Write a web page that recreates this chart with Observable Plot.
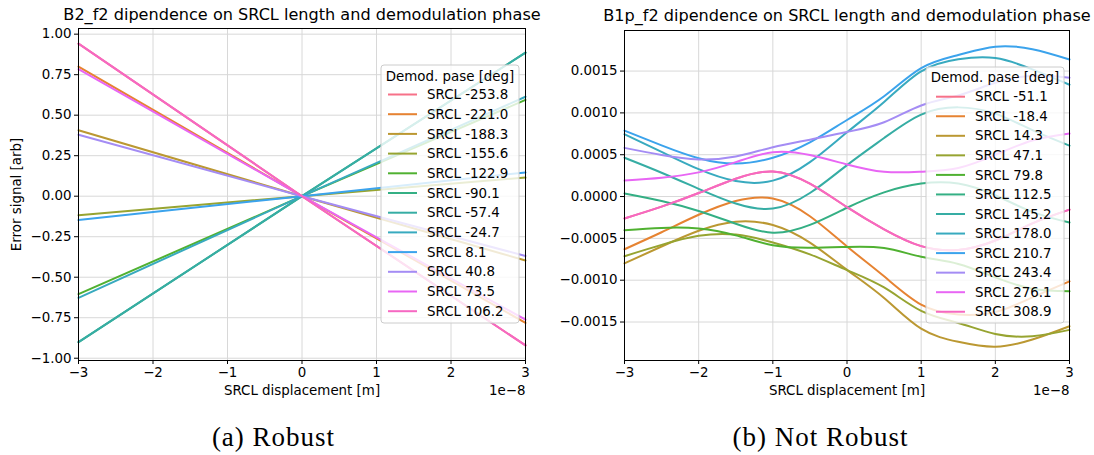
<!DOCTYPE html>
<html><head><meta charset="utf-8">
<script src="https://cdn.jsdelivr.net/npm/d3@7"></script>
<script src="https://cdn.jsdelivr.net/npm/@observablehq/plot@0.6"></script>
<style>
html,body{margin:0;padding:0;background:#fff;}
#wrap{position:relative;width:1094px;height:455px;overflow:hidden;font-family:"DejaVu Sans",sans-serif;}
.panel{position:absolute;top:0;}
.cap{position:absolute;top:422px;width:547px;line-height:30px;text-align:center;font-family:"Liberation Serif",serif;font-size:27px;letter-spacing:1px;color:#000;}
</style></head><body><div id="wrap"></div>
<script>
// ---------- data ----------
// x positions are in units of 1e-8 m
const xTickValues = [-3, -2, -1, 0, 1, 2, 3];

// (a) Robust : B2_f2
const robustPhases = [-253.8, -221.0, -188.3, -155.6, -122.9, -90.1, -57.4, -24.7, 8.1, 40.8, 73.5, 106.2];
const robustX = [-3, 0, 3];
const robustAtMinus3 = [0.942, 0.800, 0.407, -0.117, -0.604, -0.901, -0.901, -0.627, -0.147, 0.379, 0.784, 0.942];
const robustAtZero = [0, 0, 0, 0, 0, 0, 0, 0, 0, 0, 0, 0];
const robustAtPlus3 = [-0.921, -0.782, -0.397, 0.115, 0.594, 0.886, 0.886, 0.614, 0.147, -0.369, -0.762, -0.921];
const robustYTicks = [-1, -0.75, -0.5, -0.25, 0, 0.25, 0.5, 0.75, 1];

// (b) Not robust : B1p_f2 (values in units of 1e-3)
const notRobustPhases = [-51.1, -18.4, 14.3, 47.1, 79.8, 112.5, 145.2, 178.0, 210.7, 243.4, 276.1, 308.9];
const notRobustX = [-3, -2.5, -2, -1.5, -1, -0.5, 0, 0.5, 1, 1.5, 2, 2.5, 3];
const nr_m51_1 = [-0.262, -0.121, 0.042, 0.213, 0.300, 0.154, -0.127, -0.392, -0.593, -0.638, -0.526, -0.320, -0.156];
const nr_m18_4 = [-0.630, -0.427, -0.218, -0.053, -0.024, -0.236, -0.597, -0.954, -1.291, -1.411, -1.380, -1.206, -1.014];
const nr_14_3 = [-0.799, -0.597, -0.409, -0.301, -0.341, -0.551, -0.877, -1.213, -1.580, -1.737, -1.796, -1.709, -1.550];
const nr_47_1 = [-0.713, -0.578, -0.470, -0.455, -0.549, -0.692, -0.879, -1.087, -1.367, -1.511, -1.642, -1.670, -1.594];
const nr_79_8 = [-0.402, -0.375, -0.382, -0.464, -0.583, -0.613, -0.602, -0.616, -0.720, -0.806, -0.967, -1.101, -1.132];
const nr_112_5 = [0.037, -0.053, -0.172, -0.325, -0.432, -0.339, -0.134, 0.050, 0.155, 0.155, 0.015, -0.183, -0.311];
const nr_145_2 = [0.464, 0.285, 0.092, -0.084, -0.144, 0.042, 0.376, 0.700, 0.980, 1.066, 0.991, 0.793, 0.608];
const nr_178_0 = [0.745, 0.534, 0.327, 0.185, 0.190, 0.411, 0.768, 1.130, 1.497, 1.641, 1.655, 1.520, 1.337];
const nr_210_7 = [0.788, 0.612, 0.458, 0.394, 0.464, 0.648, 0.915, 1.199, 1.536, 1.693, 1.792, 1.762, 1.639];
const nr_243_4 = [0.582, 0.497, 0.444, 0.479, 0.590, 0.680, 0.772, 0.888, 1.089, 1.208, 1.360, 1.445, 1.421];
const nr_276_1 = [0.191, 0.224, 0.289, 0.411, 0.530, 0.496, 0.384, 0.296, 0.296, 0.341, 0.498, 0.670, 0.753];
const nr_308_9 = [-0.262, -0.121, 0.042, 0.213, 0.300, 0.154, -0.127, -0.392, -0.593, -0.638, -0.526, -0.320, -0.156];
const notRobustSeries = [nr_m51_1, nr_m18_4, nr_14_3, nr_47_1, nr_79_8, nr_112_5, nr_145_2, nr_178_0, nr_210_7, nr_243_4, nr_276_1, nr_308_9];
const notRobustYTicks = [-1.5, -1, -0.5, 0, 0.5, 1, 1.5];

// ---------- seaborn "husl" palette ----------
function huslPalette(n, h = 0.01, s = 0.9, l = 0.65) {
  const m = [[3.2406, -1.5372, -0.4986], [-0.9689, 1.8758, 0.0415], [0.0557, -0.2040, 1.0570]];
  const refU = 0.19784, refV = 0.46834, kappa = 903.3;
  function maxChroma(L, H) {
    const hr = H * Math.PI / 180, sinH = Math.sin(hr), cosH = Math.cos(hr);
    const sub1 = Math.pow(L + 16, 3) / 1560896;
    const sub2 = sub1 > 0.008856 ? sub1 : L / kappa;
    let result = Infinity;
    for (const [m1, m2, m3] of m) {
      const top = (0.99915 * m1 + 1.05122 * m2 + 1.14460 * m3) * sub2;
      const rbottom = 0.86330 * m3 - 0.17266 * m2;
      const lbottom = 0.12949 * m3 - 0.38848 * m1;
      const bottom = (rbottom * sinH + lbottom * cosH) * sub2;
      for (const t of [0, 1]) {
        const C = L * (top - 1.05122 * t) / (bottom + 0.17266 * sinH * t);
        if (C > 0 && C < result) result = C;
      }
    }
    return result;
  }
  const out = [];
  for (let i = 0; i < n; i++) {
    const H = ((i / n + h) % 1) * 359;
    const S = s * 99, L = l * 99;
    const C = maxChroma(L, H) / 100 * S;
    const hr = H * Math.PI / 180;
    const U = C * Math.cos(hr), V = C * Math.sin(hr);
    const Y = L > 8 ? Math.pow((L + 16) / 116, 3) : L / kappa;
    const varU = U / (13 * L) + refU, varV = V / (13 * L) + refV;
    const X = -(9 * Y * varU) / ((varU - 4) * varV - varU * varV);
    const Z = (9 * Y - 15 * varV * Y - varV * X) / (3 * varV);
    const rgb = m.map(([a, b, c]) => {
      let v = a * X + b * Y + c * Z;
      v = v <= 0.0031308 ? 12.92 * v : 1.055 * Math.pow(v, 1 / 2.4) - 0.055;
      return Math.round(Math.max(0, Math.min(1, v)) * 255);
    });
    out.push(`rgb(${rgb.join(",")})`);
  }
  return out;
}
const palette = huslPalette(12);

// ---------- helpers ----------
const minus = s => s.replace("-", "\u2212");
const labelOf = p => `SRCL ${p.toFixed(1)}`;
const FS = 13.4;

function makePanel(cfg) {
  const labels = cfg.phases.map(labelOf);
  const plot = Plot.plot({
    width: 547, height: 400,
    marginLeft: cfg.marginLeft, marginRight: cfg.marginRight, marginTop: cfg.marginTop, marginBottom: 40,
    style: {fontFamily: "'DejaVu Sans', sans-serif", fontSize: FS + "px", color: "#000", background: "transparent", overflow: "visible"},
    x: {domain: [-3e-8, 3e-8]},
    y: {domain: cfg.yDomain},
    color: {domain: labels, range: palette},
    marks: [
      Plot.gridX({ticks: xTickValues.map(v => v * 1e-8), stroke: "#d8d8d8", strokeOpacity: 1, strokeWidth: 1}),
      Plot.gridY({ticks: cfg.yTicks, stroke: "#d8d8d8", strokeOpacity: 1, strokeWidth: 1}),
      Plot.line(cfg.rows, {x: "x", y: "y", z: "label", stroke: "label", strokeWidth: 2, curve: cfg.curve}),
      Plot.frame({stroke: "#000", strokeWidth: 1}),
      Plot.axisX({ticks: xTickValues.map(v => v * 1e-8), tickFormat: d => minus(String(Math.round(d * 1e8))), tickSize: 4, tickPadding: 3, label: null, fontSize: FS}),
      Plot.axisY({ticks: cfg.yTicks, tickFormat: cfg.yFormat, tickSize: 4, tickPadding: 3, label: null, fontSize: FS}),
      Plot.text([cfg.title], {frameAnchor: "top", lineAnchor: "middle", dy: cfg.titleDy, fontSize: 16.1}),
      Plot.text(["SRCL displacement [m]"], {frameAnchor: "bottom", lineAnchor: "middle", dy: 30, fontSize: FS}),
      Plot.text(["1e\u22128"], {frameAnchor: "bottom-right", lineAnchor: "middle", textAnchor: "end", dy: 30, fontSize: FS}),
      ...(cfg.ylabel ? [Plot.text([cfg.ylabel], {frameAnchor: "left", rotate: -90, textAnchor: "middle", lineAnchor: "middle", dx: -62, fontSize: FS})] : [])
    ]
  });
  // legend
  const colorScale = plot.scale("color");
  const col = (lab, i) => (colorScale && colorScale.apply) ? colorScale.apply(lab) : palette[i];
  const L = cfg.legend;
  const g = d3.select(plot).append("g").attr("font-size", FS).attr("font-family", "'DejaVu Sans', sans-serif");
  g.append("rect").attr("x", L.x).attr("y", L.y).attr("width", L.w).attr("height", L.h).attr("rx", 3)
    .attr("fill", "#fff").attr("fill-opacity", 0.8).attr("stroke", "#cccccc").attr("stroke-width", 1);
  g.append("text").attr("x", L.x + L.w / 2).attr("y", L.titleY).attr("dy", "0.35em").attr("text-anchor", "middle").text("Demod. pase [deg]");
  labels.forEach((lab, i) => {
    const y = L.firstY + i * L.step;
    g.append("line").attr("x1", L.lineX0).attr("x2", L.lineX1).attr("y1", y).attr("y2", y)
      .attr("stroke", col(lab, i)).attr("stroke-width", 2);
    g.append("text").attr("x", L.textX).attr("y", y).attr("dy", "0.35em").attr("text-anchor", "start").text(lab);
  });
  return plot;
}

// ---------- rows ----------
const robustRows = [];
robustPhases.forEach((p, i) => {
  const vals = [robustAtMinus3[i], robustAtZero[i], robustAtPlus3[i]];
  robustX.forEach((x, j) => robustRows.push({x: x * 1e-8, y: vals[j], label: labelOf(p)}));
});
const notRobustRows = [];
notRobustPhases.forEach((p, i) => {
  notRobustX.forEach((x, j) => notRobustRows.push({x: x * 1e-8, y: notRobustSeries[i][j] * 1e-3, label: labelOf(p)}));
});

const left = makePanel({
  phases: robustPhases, rows: robustRows, curve: "linear",
  yDomain: [-1.014, 1.035], yTicks: robustYTicks, yFormat: d => minus(d.toFixed(2)),
  marginLeft: 78, marginRight: 22, marginTop: 28,
  title: "B2_f2 dipendence on SRCL length and demodulation phase", titleDy: -14,
  ylabel: "Error signal [arb]",
  legend: {x: 381, y: 65, w: 138, h: 258, titleY: 76, firstY: 94.5, step: 19.7, lineX0: 388, lineX1: 417, textX: 427}
});
const right = makePanel({
  phases: notRobustPhases, rows: notRobustRows, curve: "natural",
  yDomain: [-0.00196, 0.001985], yTicks: notRobustYTicks.map(v => v * 1e-3),
  yFormat: d => minus((Math.abs(d) < 1e-12 ? 0 : d).toFixed(4)),
  marginLeft: 77, marginRight: 25, marginTop: 30,
  title: "B1p_f2 dipendence on SRCL length and demodulation phase", titleDy: -15,
  ylabel: null,
  legend: {x: 379, y: 67, w: 138, h: 256, titleY: 77, firstY: 96.7, step: 19.55, lineX0: 389, lineX1: 418, textX: 428}
});

const wrap = document.getElementById("wrap");
const d1 = document.createElement("div"); d1.className = "panel"; d1.style.left = "0px"; d1.appendChild(left);
const d2 = document.createElement("div"); d2.className = "panel"; d2.style.left = "547px"; d2.appendChild(right);
wrap.appendChild(d1); wrap.appendChild(d2);
const c1 = document.createElement("div"); c1.className = "cap"; c1.style.left = "0px"; c1.textContent = "(a) Robust";
const c2 = document.createElement("div"); c2.className = "cap"; c2.style.left = "547px"; c2.textContent = "(b) Not Robust";
wrap.appendChild(c1); wrap.appendChild(c2);
</script></body></html>
